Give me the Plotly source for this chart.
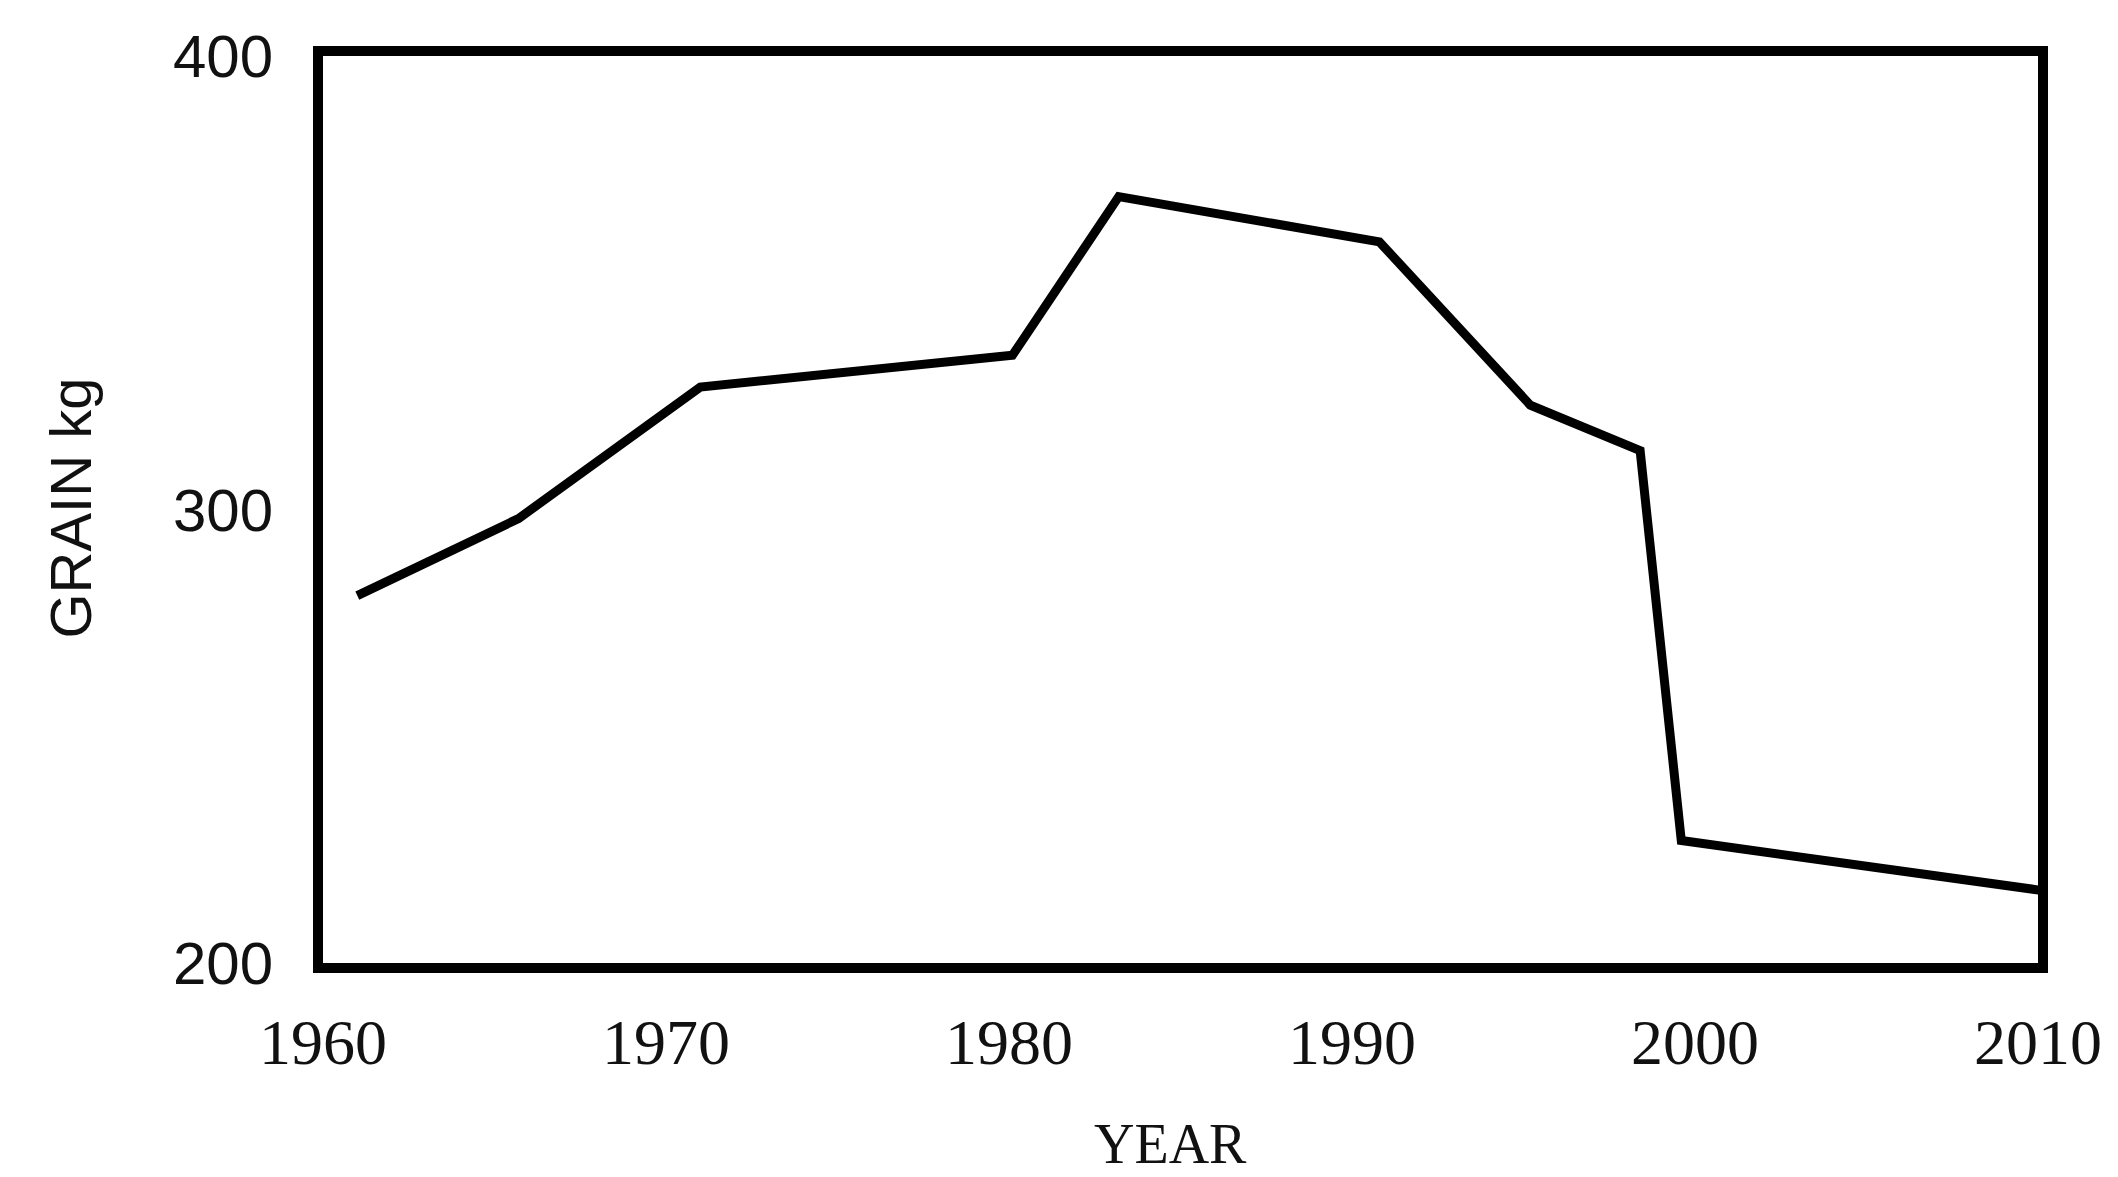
import plotly.graph_objects as go

years = [1961.0, 1965.7, 1971.0, 1980.1, 1983.2, 1990.8, 1995.2, 1998.4, 1999.6, 2010.1]
grain_kg = [281, 298, 327, 334, 369, 359, 323, 313, 227, 216]

x_ticks = [1960, 1970, 1980, 1990, 2000, 2010]
y_ticks = [200, 300, 400]

fig = go.Figure()

fig.add_trace(go.Scatter(
    x=years,
    y=grain_kg,
    mode='lines',
    line=dict(color='black', width=9),
    showlegend=False,
    hoverinfo='x+y',
))

fig.update_layout(
    width=2118,
    height=1177,
    margin=dict(l=315, r=88, t=48, b=222),
    plot_bgcolor='white',
    paper_bgcolor='white',
    showlegend=False,
    xaxis=dict(
        range=[1960, 2010],
        tickvals=x_ticks,
        ticktext=[str(t) for t in x_ticks],
        showgrid=False,
        zeroline=False,
        showline=True,
        linecolor='black',
        linewidth=10,
        mirror=True,
        ticks='',
        ticklabelstandoff=14,
        tickfont=dict(family='Liberation Serif, DejaVu Serif, serif', size=64, color='#111'),
    ),
    yaxis=dict(
        range=[200, 400],
        tickvals=y_ticks,
        ticktext=[str(t) for t in y_ticks],
        showgrid=False,
        zeroline=False,
        showline=True,
        linecolor='black',
        linewidth=10,
        mirror=True,
        ticks='',
        ticklabelstandoff=28,
        tickfont=dict(family='Liberation Sans Narrow, Liberation Sans, Arial, sans-serif', size=60, color='#111'),
    ),
)

# axis titles placed as annotations to match the scan
fig.add_annotation(
    text='YEAR', xref='paper', yref='paper', x=0.494, y=-0.2,
    showarrow=False, xanchor='center', yanchor='middle',
    font=dict(family='Liberation Serif, DejaVu Serif, serif', size=56, color='#111'),
)
fig.add_annotation(
    text='GRAIN kg', xref='paper', yref='paper', x=-0.147, y=0.502,
    showarrow=False, xanchor='center', yanchor='middle', textangle=-90,
    font=dict(family='Liberation Sans, Arial, sans-serif', size=58, color='#111'),
)

fig.write_html("out.html")
